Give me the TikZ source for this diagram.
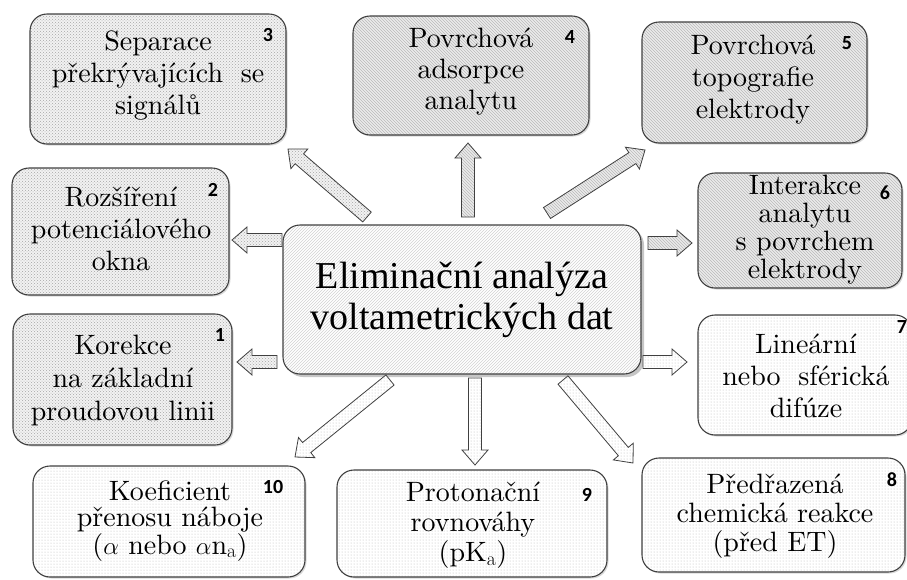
\documentclass[tikz,border=0pt]{standalone}
\usepackage{fontspec}
\newfontfamily\cfont{Liberation Serif}
\newfontfamily\nfont{Carlito}
\newfontfamily\boxfont{lmroman10-regular.otf}
\usetikzlibrary{calc,patterns,shadows}
\tikzset{
 box/.style={draw=black!75, line width=1.1pt, rounded corners=17pt, inner sep=0pt},
 shad/.style={drop shadow={shadow xshift=1.5pt, shadow yshift=-1.5pt, opacity=0.3}},
 pdense/.style={preaction={fill=gray!10}, pattern=crosshatch dots, pattern color=gray!70},
 plines/.style={preaction={fill=gray!15}, pattern=north west lines, pattern color=gray!55},
 psparse/.style={preaction={fill=white}, pattern=dots, pattern color=gray!55},
 pcenter/.style={preaction={fill=white}, pattern=north east lines, pattern color=gray!35},
 txt/.style={align=center, inner sep=0pt},
 num/.style={font=\nfont\bfseries\fontsize{20}{20}\selectfont, inner sep=0pt},
 barrowline/.style={draw=black!75, line width=0.8pt},
}
\newcommand\bs[1]{\boxfont\fontsize{28}{#1}\selectfont}
\newcommand\blockarrow[3]{%
  \coordinate (ah) at ($(#3)!15pt!(#2)$);
  \draw[barrowline,#1] ($(#2)!6.5pt!90:(#3)$) -- ($(ah)!6.5pt!90:(#3)$) -- ($(ah)!13pt!90:(#3)$) -- (#3) -- ($(ah)!13pt!-90:(#3)$) -- ($(ah)!6.5pt!-90:(#3)$) -- ($(#2)!6.5pt!-90:(#3)$) -- cycle;}
\begin{document}
\begin{tikzpicture}[x=1pt,y=-1pt]
\useasboundingbox (0,0) rectangle (907,579);
% boxes
\node[box,shad,pdense,minimum width=256pt,minimum height=130pt] (b3) at (158,79) {};
\node[box,shad,plines,minimum width=236pt,minimum height=119pt] (b4) at (471,75.5) {};
\node[box,shad,plines,minimum width=225pt,minimum height=121pt] (b5) at (754.5,82.5) {};
\node[box,shad,pdense,minimum width=217pt,minimum height=127pt] (b2) at (120.5,231.5) {};
\node[box,shad,plines,minimum width=204pt,minimum height=115pt] (b6) at (800,230.5) {};
\node[box,shad,pdense,minimum width=219pt,minimum height=131pt] (b1) at (122.5,379.5) {};
\node[box,shad,psparse,minimum width=214pt,minimum height=120pt] (b7) at (805,375) {};
\node[box,shad,psparse,minimum width=272pt,minimum height=111pt] (b10) at (169,521.5) {};
\node[box,shad,psparse,minimum width=270pt,minimum height=107pt] (b9) at (472,523.5) {};
\node[box,shad,psparse,minimum width=263pt,minimum height=114pt] (b8) at (773.5,515) {};
\node[box,drop shadow={shadow xshift=3pt, shadow yshift=-3pt, opacity=0.45},pcenter,
  minimum width=358pt,minimum height=149pt,
  align=center, font=\cfont\fontsize{38}{41}\selectfont] (c) at (462,299.5)
  {Eliminační analýza\\voltametrických dat};
% arrow end points
\coordinate (s3) at (367,217);  \coordinate (e3) at (288,149);
\coordinate (s4) at (468,217);  \coordinate (e4) at (468,143);
\coordinate (s5) at (547,213);  \coordinate (e5) at (645,150);
\coordinate (s2) at (282,240);  \coordinate (e2) at (232,240);
\coordinate (s6) at (648,243);  \coordinate (e6) at (692,243);
\coordinate (s1) at (277,362);  \coordinate (e1) at (237,362);
\coordinate (s7) at (643,362);  \coordinate (e7) at (687,362);
\coordinate (s10) at (390,380); \coordinate (e10) at (295,457);
\coordinate (s9) at (475,378);  \coordinate (e9) at (475,465);
\coordinate (s8) at (563,380);  \coordinate (e8) at (633,463);
\blockarrow{pdense}{s3}{e3}
\blockarrow{plines}{s4}{e4}
\blockarrow{plines}{s5}{e5}
\blockarrow{pdense}{s2}{e2}
\blockarrow{plines}{s6}{e6}
\blockarrow{pdense}{s1}{e1}
\blockarrow{psparse}{s7}{e7}
\blockarrow{psparse}{s10}{e10}
\blockarrow{psparse}{s9}{e9}
\blockarrow{psparse}{s8}{e8}
% texts
\node[txt,font=\bs{32}] (t3) at (158,76) {Separace\\překrývajících\hspace{0.3em} se\\signálů};
\node[txt,font=\bs{31}] (t4) at (471,72) {Povrchová\\adsorpce\\analytu};
\node[txt,font=\bs{32}] (t5) at (753,80) {Povrchová\\topografie\\elektrody};
\node[txt,font=\bs{32}] (t2) at (121,229) {Rozšíření\\potenciálového\\okna};
\node[txt,font=\bs{28}] (t6) at (805,230) {Interakce\\analytu\\s povrchem\\elektrody};
\node[txt,font=\bs{33}] (t1) at (123,380) {Korekce\\na základní\\proudovou linii};
\node[txt,font=\bs{32}] (t7) at (806,376) {Lineární\\nebo\hspace{0.3em} sférická\\difúze};
\node[txt,font=\bs{29}] (t8) at (775,516) {Předřazená\\chemická reakce\\(před ET)};
\node[txt,font=\bs{30}] (t9) at (473,525) {Protonační\\rovnováhy\\(pK$_\mathrm{a}$)};
\node[txt,font=\bs{26}] (t10) at (170,521) {Koeficient\\přenosu náboje\\($\alpha$ nebo $\alpha$n$_\mathrm{a}$)};
% numbers
\node[num] (n3) at (268,35) {3};
\node[num] (n4) at (570,37) {4};
\node[num] (n5) at (847,43) {5};
\node[num] (n2) at (213,190) {2};
\node[num] (n6) at (885,193) {6};
\node[num] (n1) at (220,335) {1};
\node[num] (n7) at (902,327) {7};
\node[num] (n8) at (892,480) {8};
\node[num] (n9) at (587,495) {9};
\node[num] (n10) at (273,487) {10};
\end{tikzpicture}
\end{document}
